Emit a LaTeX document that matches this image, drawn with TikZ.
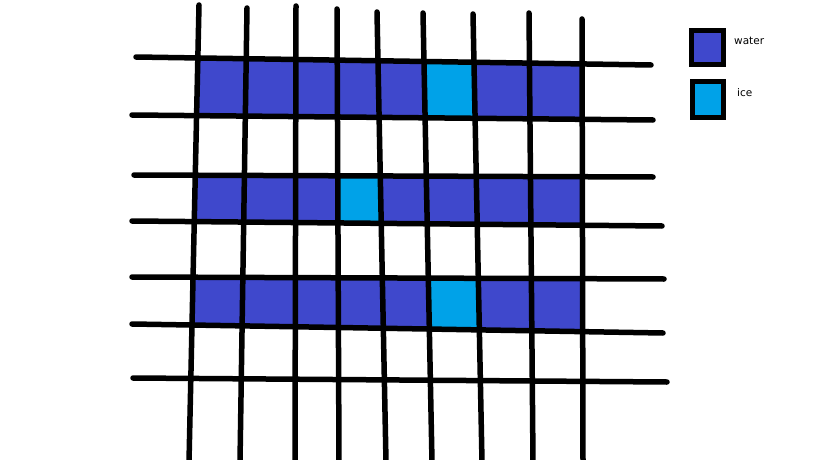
\documentclass[tikz,border=0pt]{standalone}
\usepackage{fontspec}
\setmainfont{DejaVu Sans}
\definecolor{water}{HTML}{3F48CC}
\definecolor{ice}{HTML}{00A2E8}
\begin{document}
\begin{tikzpicture}[x=1pt,y=-1pt,
  gridline/.style={line width=5.5pt, draw=black, line cap=round},
  legendbox/.style={draw=black, line width=4.5pt},
  lbl/.style={anchor=west, font=\fontsize{10.5}{12}\selectfont, inner sep=0pt}]
\useasboundingbox (0,0) rectangle (819,460);
% vertical line end points
\foreach \i/\xt/\yt/\xb in {1/199/5/189, 2/247/8/240, 3/296/6/295, 4/337/9/339, 5/377/12/386, 6/423/13/432, 7/473/14/482, 8/529/13/533, 9/582/19/583}{
  \coordinate (v\i t) at (\xt,\yt);
  \coordinate (v\i b) at (\xb,462);
}
% horizontal line end points
\foreach \j/\xl/\yl/\xr/\yr in {1/136/57/651/65, 2/132/115/653/120, 3/134/175/653/177, 4/132/221/662/226, 5/132/277/664/279, 6/132/324/663/333, 7/133/378/667/382}{
  \coordinate (h\j l) at (\xl,\yl);
  \coordinate (h\j r) at (\xr,\yr);
}
% intersections
\foreach \i in {1,...,9}{
  \foreach \j in {1,...,7}{
    \coordinate (p\i-\j) at (intersection of v\i t--v\i b and h\j l--h\j r);
  }
}
% water rows
\fill[water] (p1-1) -- (p9-1) -- (p9-2) -- (p1-2) -- cycle;
\fill[water] (p1-3) -- (p9-3) -- (p9-4) -- (p1-4) -- cycle;
\fill[water] (p1-5) -- (p9-5) -- (p9-6) -- (p1-6) -- cycle;
% ice cells
\fill[ice] (p6-1) -- (p7-1) -- (p7-2) -- (p6-2) -- cycle;
\fill[ice] (p4-3) -- (p5-3) -- (p5-4) -- (p4-4) -- cycle;
\fill[ice] (p6-5) -- (p7-5) -- (p7-6) -- (p6-6) -- cycle;
% grid lines
\foreach \i in {1,...,9}{ \draw[gridline] (v\i t) -- (v\i b); }
\foreach \j in {1,...,7}{ \draw[gridline] (h\j l) -- (h\j r); }
% legend
\draw[legendbox, fill=water] (691.5,30.5) rectangle (723.5,64.5);
\draw[legendbox, fill=ice] (692.5,81.5) rectangle (723.5,117.5);
\node[lbl] (waterlbl) at (734,41) {water};
\node[lbl] (icelbl) at (737,93) {ice};
\end{tikzpicture}
\end{document}
